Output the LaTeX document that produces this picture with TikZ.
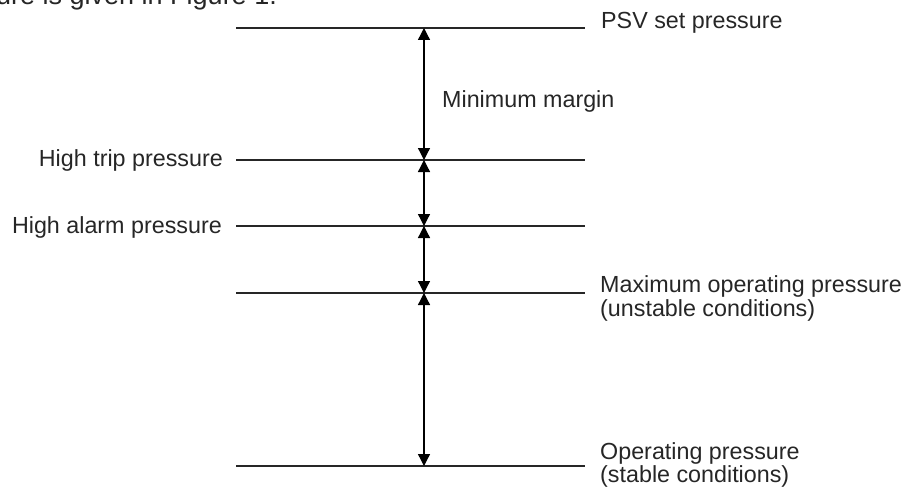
\documentclass[tikz,border=0pt]{standalone}
\usepackage{fontspec}
\setmainfont{Liberation Sans}
\usetikzlibrary{arrows.meta}
\begin{document}
\begin{tikzpicture}[x=1pt,y=-1pt,
  level/.style={line width=1.4pt, draw=black!85},
  gap/.style={line width=1.3pt,
    {Triangle[width=12pt,length=12pt]}-{Triangle[width=12pt,length=12pt]}},
  lbl/.style={font=\fontsize{23.3}{26}\selectfont, inner sep=0pt, text=black!85},
  body/.style={font=\fontsize{27}{30}\selectfont, inner sep=0pt, text=black!85}]
\useasboundingbox (0,0) rectangle (903,487);
\clip (0,0) rectangle (903,487);

% running text of the page above the figure
\node[body, anchor=base west] (runin) at (-4,5) {ure is given in Figure 1.};

% pressure levels
\coordinate (psvL)   at (236,28);  \coordinate (psvR)   at (585,28);
\coordinate (tripL)  at (236,160); \coordinate (tripR)  at (585,160);
\coordinate (alarmL) at (236,226); \coordinate (alarmR) at (585,226);
\coordinate (maxL)   at (236,293); \coordinate (maxR)   at (585,293);
\coordinate (opL)    at (236,466); \coordinate (opR)    at (585,466);

\draw[level] (psvL) -- (psvR);
\draw[level] (tripL) -- (tripR);
\draw[level] (alarmL) -- (alarmR);
\draw[level] (maxL) -- (maxR);
\draw[level] (opL) -- (opR);

% margins between levels
\coordinate (psvA)   at (424,28);
\coordinate (tripA)  at (424,160);
\coordinate (alarmA) at (424,226);
\coordinate (maxA)   at (424,293);
\coordinate (opA)    at (424,466);

\draw[gap] (psvA) -- (tripA);
\draw[gap] (tripA) -- (alarmA);
\draw[gap] (alarmA) -- (maxA);
\draw[gap] (maxA) -- (opA);

% labels
\node[lbl, anchor=base west] (psvT)  at (601,29)  {PSV set pressure};
\node[lbl, anchor=base west] (minT)  at (442,107) {Minimum margin};
\node[lbl, anchor=base east] (tripT) at (223,166) {High trip pressure};
\node[lbl, anchor=base east] (alarmT) at (222,233) {High alarm pressure};
\node[lbl, anchor=base west] (maxT1) at (600,292) {Maximum operating pressure};
\node[lbl, anchor=base west] (maxT2) at (600,316) {(unstable conditions)};
\node[lbl, anchor=base west] (opT1)  at (600,459) {Operating pressure};
\node[lbl, anchor=base west] (opT2)  at (600,482) {(stable conditions)};
\end{tikzpicture}
\end{document}
